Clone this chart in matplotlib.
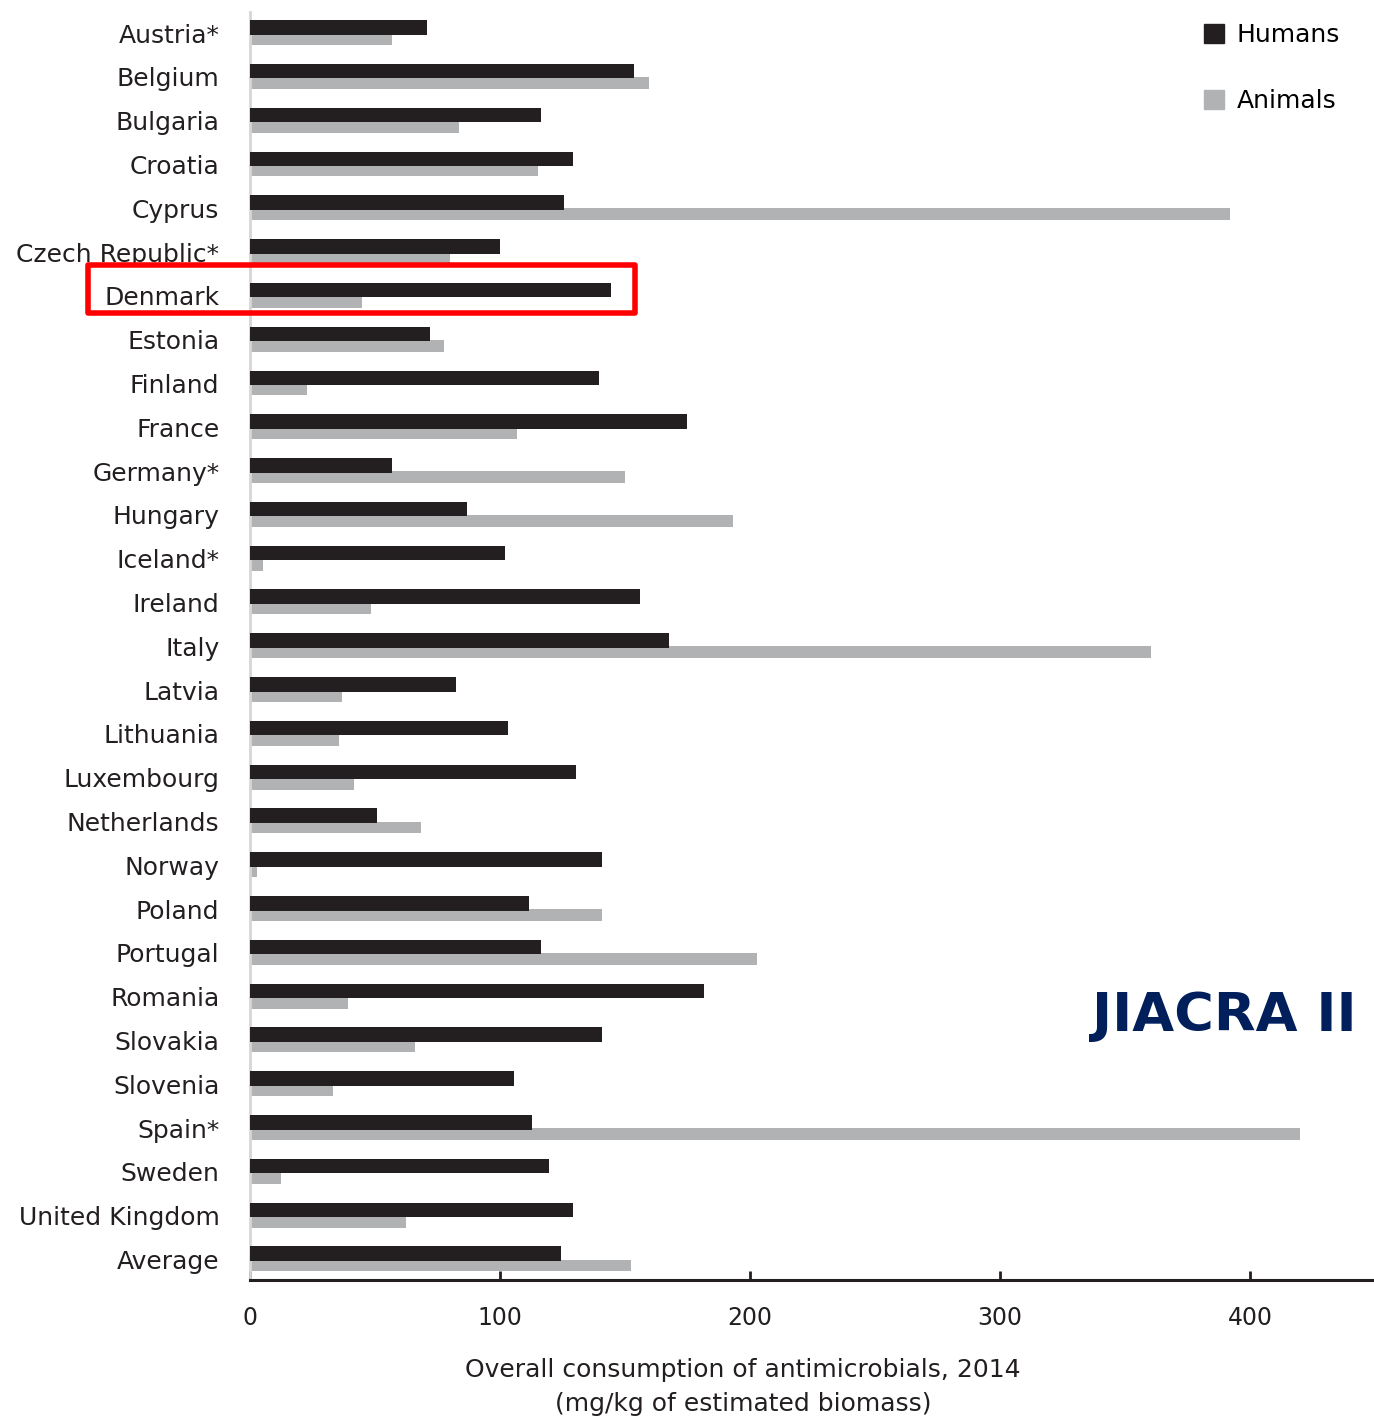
import matplotlib
matplotlib.use("Agg")
import matplotlib.pyplot as plt
from matplotlib.patches import Rectangle, Patch

# Data (mg/kg of estimated biomass, 2014)
countries = ['Austria*', 'Belgium', 'Bulgaria', 'Croatia', 'Cyprus', 'Czech Republic*',
             'Denmark', 'Estonia', 'Finland', 'France', 'Germany*', 'Hungary', 'Iceland*',
             'Ireland', 'Italy', 'Latvia', 'Lithuania', 'Luxembourg', 'Netherlands',
             'Norway', 'Poland', 'Portugal', 'Romania', 'Slovakia', 'Slovenia', 'Spain*',
             'Sweden', 'United Kingdom', 'Average']
humans = [70.8, 153.6, 116.4, 129.2, 125.6, 100.0, 144.4, 72.0, 139.6, 174.8, 56.8,
          86.8, 102.0, 156.0, 167.6, 82.4, 103.2, 130.4, 50.8, 140.8, 111.6, 116.4,
          181.6, 140.8, 105.6, 112.8, 119.6, 129.2, 124.4]
animals = [56.8, 159.6, 83.6, 115.2, 392.0, 80.0, 44.8, 77.6, 22.8, 106.8, 150.0,
           193.2, 5.2, 48.4, 360.4, 36.8, 35.6, 41.6, 68.4, 2.8, 140.8, 202.8, 39.2,
           66.0, 33.2, 420.0, 12.4, 62.4, 152.4]
xticks = [0, 100, 200, 300, 400]
highlight = 'Denmark'

HUMAN_COLOR = '#231f20'
ANIMAL_COLOR = '#b1b2b4'

plt.rcParams['font.family'] = ['DejaVu Sans']

fig = plt.figure(figsize=(13.74, 14.21), dpi=100)
ax = fig.add_axes([250 / 1374, 141 / 1421, 1122 / 1374, 1268 / 1421])

ypos = list(range(len(countries)))
ax.barh([y + 0.14 for y in ypos], animals, height=0.27, color=ANIMAL_COLOR, zorder=2)
ax.barh([y - 0.13 for y in ypos], humans, height=0.33, color=HUMAN_COLOR, zorder=3)

ax.set_ylim(len(countries) - 0.53, -0.48)
ax.set_xlim(0, 448.8)

ax.set_yticks(ypos)
ax.set_yticklabels(countries, fontsize=18, color='#231f20')
ax.tick_params(axis='y', length=0, pad=22)
ax.set_xticks(xticks)
ax.set_xticklabels([str(t) for t in xticks], fontsize=17, color='#231f20')
ax.tick_params(axis='x', direction='in', length=6.5, width=2, color=HUMAN_COLOR, pad=19)

for side in ['top', 'right']:
    ax.spines[side].set_visible(False)
ax.spines['left'].set_color('#d6d6d6')
ax.spines['left'].set_linewidth(2)
ax.spines['bottom'].set_color(HUMAN_COLOR)
ax.spines['bottom'].set_linewidth(2.2)

fig.text(743 / 1374, 1 - 1387 / 1421,
         'Overall consumption of antimicrobials, 2014\n(mg/kg of estimated biomass)',
         ha='center', va='center', fontsize=18, color='#231f20', linespacing=1.55)

# legend
handles = [Patch(color=HUMAN_COLOR, label='Humans'), Patch(color=ANIMAL_COLOR, label='Animals')]
fig.legend(handles=handles, loc='upper left', bbox_to_anchor=(1204 / 1374, 1 - 23 / 1421),
           bbox_transform=fig.transFigure, frameon=False, fontsize=18,
           handlelength=0.8, handleheight=0.8, handletextpad=0.5, labelspacing=1.7,
           borderpad=0, borderaxespad=0)

fig.text(1357 / 1374, 1 - 1016 / 1421, 'JIACRA II', ha='right', va='center',
         fontsize=39, fontweight='bold', color='#001f5b')

# red box around the highlighted country
i = countries.index(highlight)
box = Rectangle((-65, i - 0.71), 219, 1.1, fill=False, edgecolor='#ff0000',
                linewidth=4, joinstyle='round', clip_on=False, zorder=5)
ax.add_patch(box)

fig.savefig('out.png', dpi=100)
